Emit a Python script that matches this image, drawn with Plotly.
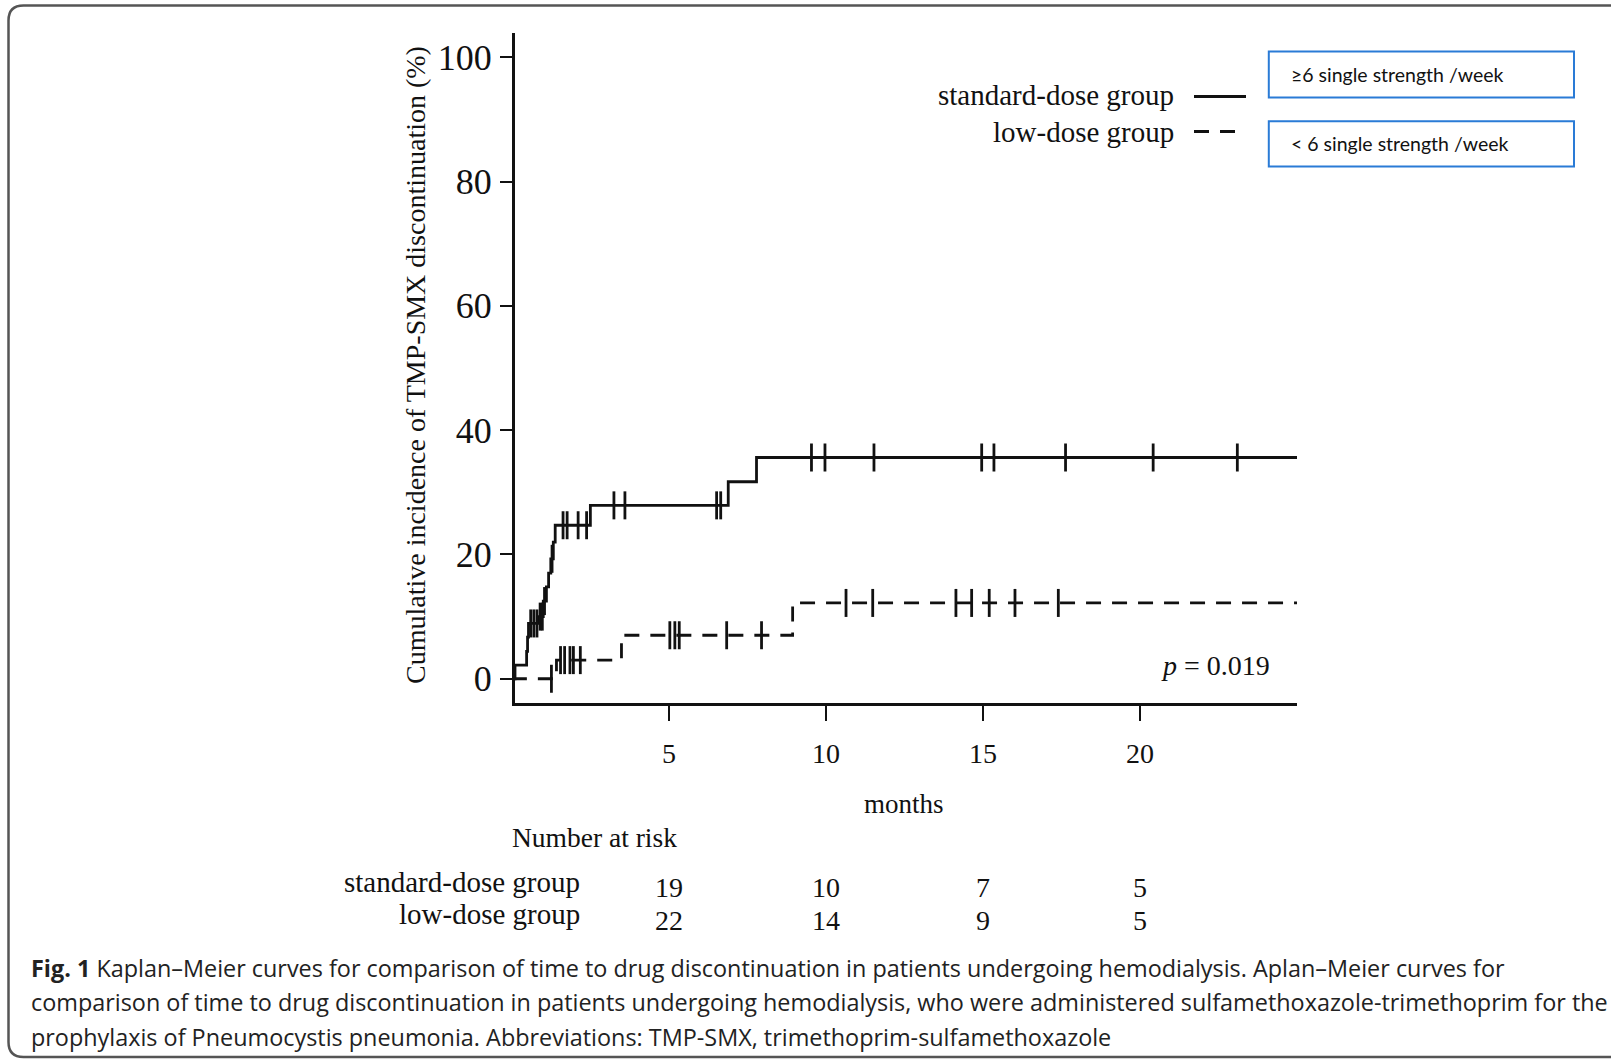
import plotly.graph_objects as go

# ---------------- data ----------------
# standard-dose group: event times (months) and cumulative incidence (%)
std_times = [0, 0.10, 0.47, 0.50, 0.53, 0.85, 1.00, 1.10, 1.17, 1.24, 1.32, 1.38, 2.50, 6.89, 7.79, 25]
std_cum = [0, 2.2, 4.4, 6.7, 8.9, 10.0, 12.5, 14.8, 17.0, 19.3, 22.0, 24.7, 27.9, 31.7, 35.6, 35.6]
std_censor = [0.60, 0.70, 0.80, 0.90, 0.97, 1.04, 1.28, 1.63, 1.76, 2.11, 2.38, 3.25, 3.60, 6.52, 6.65,
              9.54, 9.97, 11.53, 14.96, 15.35, 17.63, 20.42, 23.10]

# low-dose group
low_times = [0, 1.42, 3.49, 8.94, 25]
low_cum = [0, 3.0, 7.0, 12.2, 12.2]
low_censor = [1.26, 1.55, 1.68, 1.85, 1.96, 2.18, 5.03, 5.19, 5.33, 6.84, 7.95,
              10.64, 11.49, 14.14, 14.64, 15.20, 16.02, 17.40]

x_ticks = [5, 10, 15, 20]
y_ticks = [0, 20, 40, 60, 80, 100]
risk_times = [5, 10, 15, 20]
risk_std = [19, 10, 7, 5]
risk_low = [22, 14, 9, 5]

group_names = ["standard-dose group", "low-dose group"]
box_labels = ["\u22656 single strength /week", "< 6 single strength /week"]
p_text = "<i>p</i> = 0.019"
y_title = "Cumulative incidence of TMP-SMX discontinuation (%)"
x_title = "months"
caption_lines = [
    "<b>Fig. 1</b> Kaplan\u2013Meier curves for comparison of time to drug discontinuation in patients undergoing hemodialysis. Aplan\u2013Meier curves for",
    "comparison of time to drug discontinuation in patients undergoing hemodialysis, who were administered sulfamethoxazole-trimethoprim for the",
    "prophylaxis of Pneumocystis pneumonia. Abbreviations: TMP-SMX, trimethoprim-sulfamethoxazole",
]


def step_value(times, values, t):
    v = values[0]
    for tt, vv in zip(times, values):
        if tt <= t:
            v = vv
    return v


# ---------------- layout helpers ----------------
W, H = 1611, 1059
L, R, T, B = 515, 1297, 33, 703


def px(xp):
    return (xp - L) / (R - L)


def py(yp):
    return (B - yp) / (B - T)


SERIF = "Liberation Serif, Times New Roman, serif"
SANS = "Open Sans, Noto Sans, sans-serif"
BOXF = "Lato, Carlito, sans-serif"
BLACK = "#111111"
DASH = "15px,11px"

fig = go.Figure()

fig.add_trace(go.Scatter(x=std_times, y=std_cum, mode="lines", line=dict(shape="hv", color=BLACK, width=2.8),
                         showlegend=False, hoverinfo="skip"))
fig.add_trace(go.Scatter(x=std_censor, y=[step_value(std_times, std_cum, t) for t in std_censor], mode="markers",
                         marker=dict(symbol="line-ns", size=20, line=dict(width=2.8, color=BLACK)),
                         showlegend=False, hoverinfo="skip"))
fig.add_trace(go.Scatter(x=low_times, y=low_cum, mode="lines",
                         line=dict(shape="hv", color=BLACK, width=2.8, dash=DASH),
                         showlegend=False, hoverinfo="skip"))
fig.add_trace(go.Scatter(x=low_censor, y=[step_value(low_times, low_cum, t) for t in low_censor], mode="markers",
                         marker=dict(symbol="line-ns", size=20, line=dict(width=2.8, color=BLACK)),
                         showlegend=False, hoverinfo="skip"))

annotations = []


def ann(text, x, y, size, family=SERIF, xanchor="center", yanchor="middle", xref="paper", angle=0, color=BLACK):
    annotations.append(dict(text=text, x=x, y=y, xref=xref, yref="paper", showarrow=False,
                            xanchor=xanchor, yanchor=yanchor, textangle=angle,
                            font=dict(family=family, size=size, color=color)))


ann(y_title, px(415), py(365), 28, angle=-90)
ann(x_title, px(904), py(804), 27)
ann("Number at risk", px(594), py(837), 27.5)
ann(group_names[0], px(1176), py(94.5), 29, xanchor="right")
ann(group_names[1], px(1176), py(131.5), 29, xanchor="right")
ann(p_text, px(1272), py(665.8), 28, xanchor="right")
ann(group_names[0], px(581.5), py(881.5), 29, xanchor="right")
ann(group_names[1], px(581.5), py(914), 29, xanchor="right")
for t, n in zip(risk_times, risk_std):
    ann(str(n), t, py(887.7), 28, xref="x")
for t, n in zip(risk_times, risk_low):
    ann(str(n), t, py(920.5), 28, xref="x")
ann(box_labels[0], px(1289), py(75), 19.5, family=BOXF, xanchor="left")
ann(box_labels[1], px(1289), py(143.8), 19.5, family=BOXF, xanchor="left")
for line, yc in zip(caption_lines, [968, 1002, 1036.6]):
    ann(line, px(28.8), py(yc), 23.4, family=SANS, xanchor="left", color="#222222")

shapes = []
# legend line samples
shapes.append(dict(type="line", xref="paper", yref="paper", x0=px(1194), x1=px(1246), y0=py(96.6), y1=py(96.6),
                   line=dict(color=BLACK, width=3)))
shapes.append(dict(type="line", xref="paper", yref="paper", x0=px(1194), x1=px(1239), y0=py(131.5), y1=py(131.5),
                   line=dict(color=BLACK, width=3, dash=DASH)))
# blue boxes
for (y0, y1) in [(51.4, 97.6), (121.2, 166.4)]:
    shapes.append(dict(type="rect", xref="paper", yref="paper", x0=px(1268.8), x1=px(1574), y0=py(y0), y1=py(y1),
                       line=dict(color="#2A7BD6", width=2), fillcolor="rgba(0,0,0,0)"))
# outer rounded frame
xl, xr, yt, yb, r = 8.5, 1625, 5.5, 1057, 15
path = (f"M {px(xr)},{py(yt)} L {px(xl + r)},{py(yt)} Q {px(xl)},{py(yt)} {px(xl)},{py(yt + r)} "
        f"L {px(xl)},{py(yb - r)} Q {px(xl)},{py(yb)} {px(xl + r)},{py(yb)} L {px(xr)},{py(yb)}")
shapes.append(dict(type="path", xref="paper", yref="paper", path=path, line=dict(color="#555555", width=2.5)))

fig.update_layout(
    width=W, height=H,
    margin=dict(l=L, r=W - R, t=T, b=H - B, pad=0),
    paper_bgcolor="white", plot_bgcolor="white",
    showlegend=False,
    annotations=annotations,
    shapes=shapes,
    xaxis=dict(range=[0.1, 25], tickvals=x_ticks, ticktext=[str(v) for v in x_ticks],
               showgrid=False, zeroline=False, showline=True, linecolor=BLACK, linewidth=3,
               ticks="outside", ticklen=15, tickwidth=1.5, tickcolor=BLACK,
               tickfont=dict(family=SERIF, size=28, color=BLACK), ticklabelstandoff=8),
    yaxis=dict(range=[-3.9, 103.9], tickvals=y_ticks, ticktext=[str(v) for v in y_ticks],
               showgrid=False, zeroline=False, showline=True, linecolor=BLACK, linewidth=3,
               ticks="outside", ticklen=12, tickwidth=1.5, tickcolor=BLACK,
               tickfont=dict(family=SERIF, size=36, color=BLACK), ticklabelstandoff=1),
)

fig.write_html("out.html", config={"displayModeBar": False},
               post_script="document.body.style.margin='0px';document.body.style.overflow='hidden';")
